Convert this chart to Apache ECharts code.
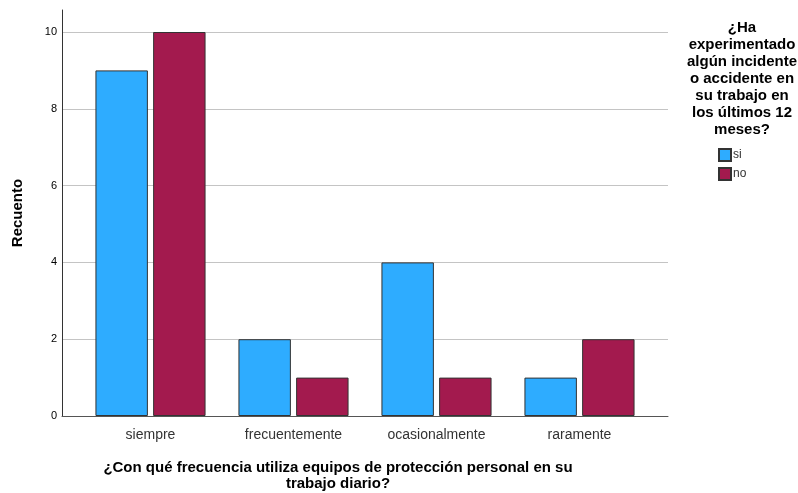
<!DOCTYPE html>
<html>
<head>
<meta charset="utf-8">
<script src="https://cdn.jsdelivr.net/npm/echarts@6/dist/echarts.min.js"></script>
<style>
  html, body { margin: 0; padding: 0; background: #fff; }
  #chart { width: 798px; height: 493px; }
</style>
</head>
<body>
<div id="chart"></div>
<script>
const categories = ['siempre', 'frecuentemente', 'ocasionalmente', 'raramente'];
const siValues = [9, 2, 4, 1];
const noValues = [10, 1, 1, 2];
const yTicks = [0, 2, 4, 6, 8, 10];

const font = 'Liberation Sans, Arial, sans-serif';
const chart = echarts.init(document.getElementById('chart'));

chart.setOption({
    animation: false,
    textStyle: { fontFamily: font },
    title: [{
        text: '¿Con qué frecuencia utiliza equipos de protección personal en su\ntrabajo diario?',
        left: 333, top: 455, textAlign: 'center',
        textStyle: { fontSize: 15, fontWeight: 'bold', color: '#000', lineHeight: 16, fontFamily: font }
    }, {
        text: '¿Ha\nexperimentado\nalgún incidente\no accidente en\nsu trabajo en\nlos últimos 12\nmeses?',
        left: 737, top: 14, textAlign: 'center',
        textStyle: { fontSize: 15, fontWeight: 'bold', color: '#000', lineHeight: 17, fontFamily: font }
    }],
    legend: {
        orient: 'vertical', left: 718, top: 148, padding: 0,
        itemWidth: 12, itemHeight: 12, itemGap: 5,
        icon: 'rect',
        textStyle: { fontSize: 12, color: '#333', padding: [0, 0, 0, -3] },
        data: ['si', 'no']
    },
    grid: [
        { left: 62, right: 130, top: 32, bottom: 77 },   // background grid lines
        { left: 62, right: 130, top: 10, bottom: 77 },   // y axis line
        { left: 79, width: 572, top: 32, bottom: 77 }    // bars
    ],
    xAxis: [
        { gridIndex: 0, type: 'category', data: categories, axisTick: { show: false },
          axisLabel: { show: false }, axisLine: { lineStyle: { color: '#555', width: 1 } } },
        { gridIndex: 1, type: 'category', data: categories, show: false },
        { gridIndex: 2, type: 'category', data: categories,
          axisLine: { show: false }, axisTick: { show: false },
          axisLabel: { fontSize: 14, color: '#333', margin: 12 } }
    ],
    yAxis: [
        { gridIndex: 0, type: 'value', min: 0, max: yTicks[yTicks.length - 1], interval: 2,
          axisLine: { show: false }, axisTick: { show: false },
          axisLabel: { fontSize: 11, color: '#000', margin: 5 },
          splitLine: { lineStyle: { color: '#c4c4c4', width: 1 } } },
        { gridIndex: 1, type: 'value', min: 0, max: 10.57,
          name: 'Recuento', nameLocation: 'middle', nameGap: 37,
          nameTextStyle: { fontSize: 15, fontWeight: 'bold', color: '#000' },
          axisLine: { show: true, lineStyle: { color: '#333', width: 1 } },
          axisTick: { show: false }, axisLabel: { show: false }, splitLine: { show: false } },
        { gridIndex: 2, type: 'value', min: 0, max: 10, show: false }
    ],
    series: [{
        name: 'si', type: 'bar', xAxisIndex: 2, yAxisIndex: 2,
        data: siValues, barGap: '10%', barCategoryGap: '23%',
        itemStyle: { color: '#2eacff', borderColor: '#333', borderWidth: 1 }
    }, {
        name: 'no', type: 'bar', xAxisIndex: 2, yAxisIndex: 2,
        data: noValues,
        itemStyle: { color: '#a31a4e', borderColor: '#333', borderWidth: 1 }
    }]
});
</script>
</body>
</html>
